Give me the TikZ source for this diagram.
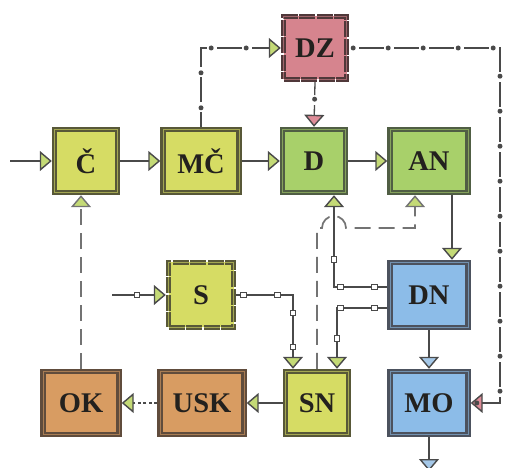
\documentclass[tikz,border=0pt]{standalone}
\usepackage{fontspec}
\setmainfont{Liberation Serif}
\usetikzlibrary{arrows.meta,decorations.markings,calc}
\definecolor{ylw}{RGB}{214,220,100}
\definecolor{ylwF}{RGB}{88,88,56}
\definecolor{grn}{RGB}{168,208,106}
\definecolor{grnF}{RGB}{80,94,68}
\definecolor{pnk}{RGB}{214,132,142}
\definecolor{pnkF}{RGB}{80,56,58}
\definecolor{blu}{RGB}{140,188,232}
\definecolor{bluF}{RGB}{76,82,94}
\definecolor{org}{RGB}{216,156,98}
\definecolor{orgF}{RGB}{96,76,60}
\definecolor{ln}{RGB}{74,74,74}
\definecolor{lgray}{RGB}{115,115,115}
\definecolor{txt}{RGB}{35,33,30}
\definecolor{agrn}{RGB}{196,218,118}
\definecolor{apnk}{RGB}{222,140,152}
\definecolor{ablu}{RGB}{165,200,232}
\begin{document}
\begin{tikzpicture}[x=1pt,y=-1pt,
  box/.style={rectangle, inner sep=0pt, minimum height=63pt,
    font=\bfseries\fontsize{28.5}{28.5}\selectfont, text=txt,
    line width=2.3pt, double distance=0.8pt, outer sep=2.7pt},
  ybox/.style={box, fill=ylw, draw=ylwF, double=ylwF!40!ylw},
  gbox/.style={box, fill=grn, draw=grnF, double=grnF!40!grn},
  pbox/.style={box, fill=pnk, draw=pnkF, double=pnkF!40!pnk},
  bbox/.style={box, fill=blu, draw=bluF, double=bluF!40!blu},
  obox/.style={box, fill=org, draw=orgF, double=orgF!40!org},
  seg/.style={dash pattern=on 16pt off 1.5pt},
  conn/.style={draw=ln, line width=1.4pt},
  ga/.style={-{Triangle[length=12pt,width=20pt,fill=agrn,line width=1.4pt]}},
  pa/.style={-{Triangle[length=12pt,width=20pt,fill=apnk,line width=1.4pt]}},
  ba/.style={-{Triangle[length=12pt,width=20pt,fill=ablu,line width=1.4pt]}},
  dotline/.style 2 args={draw=ln, line width=1.3pt, dash pattern=on 25pt off 10pt, dash phase=#2,
    decoration={markings, mark=between positions #1 and 1 step 35pt with {\fill[ln] (0,0) circle (2.5pt);}},
    postaction={decorate}},
  sqm/.style={rectangle, draw=ln, fill=white, line width=0.9pt, minimum size=5.5pt, inner sep=0pt},
  sqline/.style 2 args={draw=ln, line width=1.2pt,
    decoration={markings, mark=between positions #1 and #2 step 34pt with {\node[sqm]{};}},
    postaction={decorate}},
  ldash/.style={draw=lgray, line width=1.7pt, dash pattern=on 16pt off 8pt},
]
\useasboundingbox (0,0) rectangle (507,468);

% nodes
\node[ybox, minimum width=63pt] (C)   at (86,161)  {Č};
\node[ybox, minimum width=76pt] (MC)  at (201,161) {MČ};
\node[gbox, minimum width=63pt] (D)   at (314,161) {D};
\node[gbox, minimum width=78pt] (AN)  at (429,161) {AN};
\node[pbox, seg, minimum width=63pt] (DZ) at (315,48) {DZ};
\node[ybox, seg, minimum width=65pt, minimum height=65pt] (S) at (201,295) {S};
\node[bbox, minimum width=78pt, minimum height=65pt] (DN) at (429,295) {DN};
\node[ybox, minimum width=63pt] (SN)  at (317,403) {SN};
\node[obox, minimum width=84pt] (USK) at (202,403) {USK};
\node[obox, minimum width=76pt] (OK)  at (81,403)  {OK};
\node[bbox, minimum width=78pt] (MO)  at (429,403) {MO};

% helper coordinates
\coordinate (in)  at (10,161);
\coordinate (sin) at (112,295);
\coordinate (rc)  at (500,50);
\coordinate (out) at (429,471);
\coordinate (hy)  at (0,228);
\coordinate (db)  at ([xshift=20pt]D.south);
\coordinate (anb) at ([xshift=-14pt]AN.south);
\coordinate (hc)  at (db |- hy);

% main chain
\draw[conn, ga] (in) -- (C.west);
\draw[conn, ga] (C.east) -- (MC.west);
\draw[conn, ga] (MC.east) -- (D.west);
\draw[conn, ga] (D.east) -- (AN.west);
\draw[conn, ga] ([xshift=23pt]AN.south) -- ([xshift=23pt]DN.north);
\draw[conn, ba] (DN.south) -- (MO.north);
\draw[conn, ba] (MO.south) -- (out);
\draw[conn, line width=2pt, ga] (SN.west) -- (USK.east);
\draw[draw=ln, line width=2.2pt, dash pattern=on 3pt off 2.5pt, ga] (USK.west) -- (OK.east);
\draw[ldash, line width=2.2pt, ga] (OK.north) -- (OK.north |- C.south);

% DZ connections
\draw[dotline={19pt}{10pt}, ga] (MC.north) |- (DZ.west);
\draw[dotline={17pt}{12pt}, pa] (DZ.south) -- (D.north);
\draw[dotline={4pt}{25pt}, pa] (DZ.east) -- (DZ.east -| rc) -- (rc |- MO.east) -- (MO.east);

% S connections
\draw[sqline={25pt}{30pt}, ga] (sin) -- (S.west);
\draw[sqline={7pt}{120pt}, ga] (S.east) -| ([xshift=-24pt]SN.north);

% DN connections
\draw[sqline={13pt}{90pt}, ga] ([yshift=8pt]DN.west) -| (db);
\draw[sqline={13pt}{85pt}, ga] ([yshift=-13pt]DN.west) -| ([xshift=20pt]SN.north);

% long dashed with hump
\draw[ldash, ga] (SN.north) -- (SN.north |- hy) -- ([xshift=-12pt]hc)
  arc[start angle=180, end angle=0, radius=12pt] -- (anb |- hy) -- (anb);
\end{tikzpicture}
\end{document}
